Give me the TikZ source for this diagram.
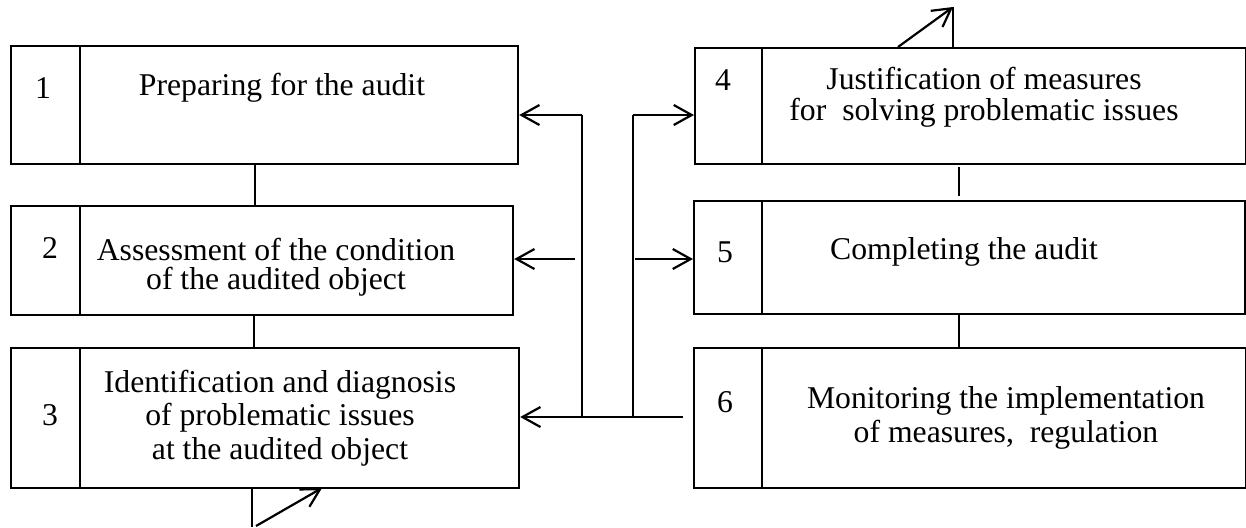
\documentclass[tikz,border=0pt]{standalone}
\usepackage{fontspec}
\setmainfont{Liberation Serif}
\usetikzlibrary{arrows.meta}

\tikzset{
  stagebox/.style={draw, line width=1.1pt, rectangle, anchor=north west, inner sep=0pt},
  stagetext/.style={align=center, inner sep=0pt, font=\fontsize{15.85}{16.7}\selectfont},
  link/.style={line width=1.1pt},
  flow/.style={line width=1.1pt, -{Straight Barb[length=9pt,width=10pt,line width=1.1pt]}}
}

\begin{document}
\begin{tikzpicture}[x=0.5pt,y=-0.5pt]
        \useasboundingbox (0,0) rectangle (1246,527);
        % left column
        \node[stagebox, minimum width=253.5pt, minimum height=59pt] (b1) at (10,45) {};
        \node[stagebox, minimum width=251pt, minimum height=54.5pt] (b2) at (10,205) {};
        \node[stagebox, minimum width=254pt, minimum height=70pt] (b3) at (10,347) {};
        % right column
        \node[stagebox, minimum width=275.5pt, minimum height=58pt] (b4) at (694,47) {};
        \node[stagebox, minimum width=275.5pt, minimum height=56.5pt] (b5) at (693,200) {};
        \node[stagebox, minimum width=276pt, minimum height=70pt] (b6) at (693,347) {};
        % number cells
        \draw[link] ([xshift=35pt]b1.north west) -- ([xshift=35pt]b1.south west);
        \draw[link] ([xshift=35pt]b2.north west) -- ([xshift=35pt]b2.south west);
        \draw[link] ([xshift=35pt]b3.north west) -- ([xshift=35pt]b3.south west);
        \draw[link] ([xshift=34pt]b4.north west) -- ([xshift=34pt]b4.south west);
        \draw[link] ([xshift=34.5pt]b5.north west) -- ([xshift=34.5pt]b5.south west);
        \draw[link] ([xshift=34.5pt]b6.north west) -- ([xshift=34.5pt]b6.south west);
        \node[stagetext] (n1) at (43,88) {1};
        \node[stagetext] (n2) at (50,248) {2};
        \node[stagetext] (n3) at (50,415) {3};
        \node[stagetext] (n4) at (723,80) {4};
        \node[stagetext] (n5) at (725,252) {5};
        \node[stagetext] (n6) at (725,402) {6};
        % texts
        \node[stagetext] (t1) at (282,88) {Preparing for the audit};
        \node[stagetext, font=\fontsize{15.85}{14.5}\selectfont] (t2) at (276,267) {Assessment of the condition\\of the audited object};
        \node[stagetext] (t3) at (280,418) {Identification and diagnosis\\of problematic issues\\at the audited object};
        \node[stagetext, font=\fontsize{15.85}{15.5}\selectfont] (t4) at (984,97) {Justification of measures\\for\ \ solving problematic issues};
        \node[stagetext] (t5) at (964,252) {Completing the audit};
        \node[stagetext] (t6) at (1006,418) {Monitoring the implementation\\of measures,\ \ regulation};
        % links between stages
        \draw[link] ([xshift=-4.75pt]b1.south) -- ([xshift=-4.75pt]b1.south |- b2.north);
        \draw[link] ([xshift=-4pt]b2.south) -- ([xshift=-4pt]b2.south |- b3.north);
        \draw[link] ([xshift=-5.75pt,yshift=-1pt]b4.south) -- ([xshift=-5.75pt,yshift=2pt]b4.south |- b5.north);
        \draw[link] ([xshift=-5.25pt]b5.south) -- ([xshift=-5.25pt]b5.south |- b6.north);
        % feedback lines
        \coordinate (lt) at (582,115);
        \coordinate (lb) at (582,417);
        \coordinate (rt) at (633,115);
        \coordinate (rb) at (633,417);
        \coordinate (re) at (683,417);
        \coordinate (lm) at (575,259);
        \coordinate (rm) at (635,259);
        \draw[link] (lt) -- (lb);
        \draw[link] (rt) -- (rb);
        \draw[flow] (lt) -- (lt -| b1.east);
        \draw[flow] (lm) -- (lm -| b2.east);
        \draw[flow] (re) -- (re -| b3.east);
        \draw[flow] (rt) -- (rt -| b4.west);
        \draw[flow] (rm) -- (rm -| b5.west);
        % outgoing arrows
        \coordinate (tp) at (953,7);
        \coordinate (ta) at (898,47);
        \draw[link] (tp |- b4.north) -- (tp);
        \draw[flow] (ta) -- (tp);
        \coordinate (bs) at (252,527);
        \coordinate (bp) at (322,488);
        \draw[link] (b3.south -| bs) -- (bs);
        \draw[flow] (256,526) -- (bp);
\end{tikzpicture}
\end{document}
